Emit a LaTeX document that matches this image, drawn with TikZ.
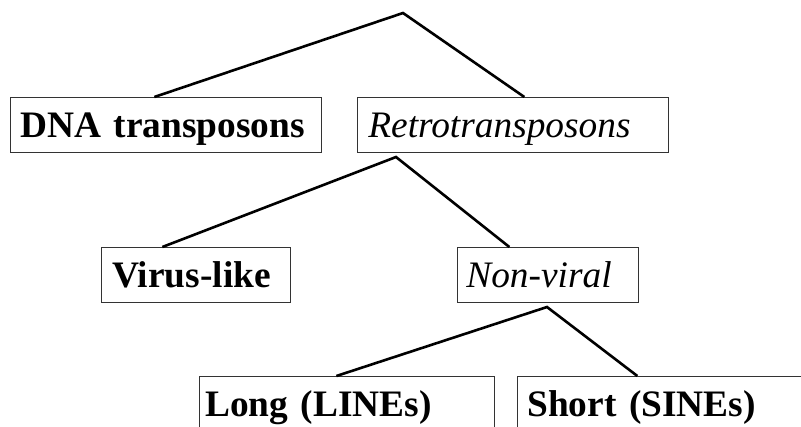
\documentclass[tikz,border=0pt]{standalone}
\usepackage{fontspec}
\setmainfont{Liberation Serif}
\tikzset{
  box/.style={draw=black!80, line width=0.7bp, anchor=north west,
    minimum height=55bp, text height=30bp, text depth=5.5bp,
    inner xsep=10bp, inner ysep=0pt, align=left,
    font=\fontsize{37.5}{45}\selectfont},
  link/.style={line width=2.6bp},
}
\begin{document}
\begin{tikzpicture}[x=1bp, y=-1bp]
  \useasboundingbox (0,0) rectangle (801,426);
  % first level
  \coordinate (root) at (403,13);
  \node[box, text width=291bp] (dna) at (10,97) {\bfseries DNA transposons};
  \node[box, text width=289bp, inner xsep=11bp] (retro) at (357,97) {\itshape Retrotransposons};
  \draw[link] ([xshift=-11.5bp]dna.north) -- (root) -- ([xshift=11.5bp]retro.north);
  % second level
  \coordinate (retrofork) at (396,157);
  \node[box, text width=167bp, inner xsep=11bp] (virus) at (101,247) {\bfseries Virus-like};
  \node[box, text width=163bp, inner xsep=9bp] (nonviral) at (457,247) {\itshape Non-viral};
  \draw[link] ([xshift=-33.5bp]virus.north) -- (retrofork) -- ([xshift=-38.5bp]nonviral.north);
  % third level
  \coordinate (nvfork) at (547,307);
  \node[box, text width=283bp, inner xsep=6bp] (long) at (199,376) {\bfseries Long (LINEs)};
  \node[box, text width=280bp] (short) at (517,376) {\bfseries Short (SINEs)};
  \draw[link] ([xshift=-10.5bp]long.north) -- (nvfork) -- ([xshift=-30bp]short.north);
\end{tikzpicture}
\end{document}
